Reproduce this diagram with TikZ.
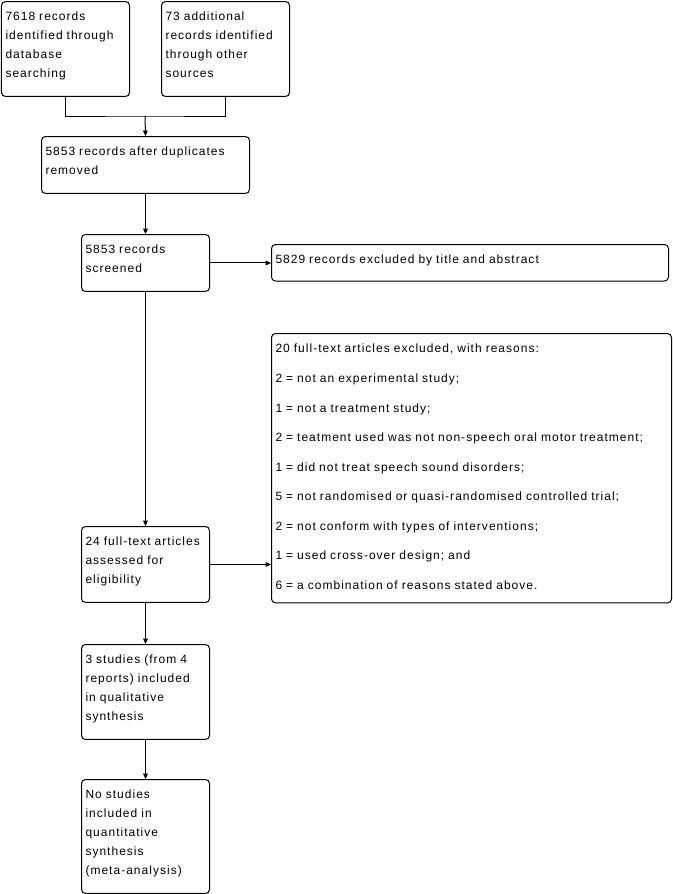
\documentclass[tikz,border=0pt]{standalone}
\usepackage{fontspec}
\setmainfont{Liberation Sans}[LetterSpace=8.5]
\usetikzlibrary{arrows.meta}

\begin{document}
\begin{tikzpicture}[x=0.75pt, y=-0.75pt, line width=0.75pt,
  font=\fontsize{9}{14.25}\selectfont,
  box/.style={draw, rounded corners=3pt, anchor=north west, align=left,
    inner xsep=3pt, inner ysep=4.6pt,
    execute at begin node=\strut,
    execute at end node={\rule[-#1]{0pt}{#1}}},
  box/.default=9.3pt,
  arr/.style={-{Triangle[length=4pt, width=3.5pt]}}]

  % Page frame, in pixels of the flow chart
  \useasboundingbox (0,0) rectangle (673,894);

  % Identification
  \node[box, text width=90pt] (dbsearch) at (1,1)
    {7618 records\\identified through\\database\\searching};
  \node[box, text width=90pt] (othersrc) at (161,1)
    {73 additional\\records identified\\through other\\sources};

  % Duplicates removed
  \node[box, text width=150pt] (dedup) at (41,136)
    {5853 records after duplicates\\removed};

  % Screening
  \node[box, text width=90pt] (screened) at (81,234)
    {5853 records\\screened};
  \node[box=8.2pt, text width=291.75pt] (exclabs) at (271,244)
    {5829 records excluded by title and abstract};

  % Eligibility
  \node[box, text width=90pt] (fulltext) at (81,526)
    {24 full-text articles\\assessed for\\eligibility};
  \node[box=5.7pt, text width=294pt] (excfull) at (271,333)
    {20 full-text articles excluded, with reasons:\\[7.9pt]
     2 = not an experimental study;\\[7.9pt]
     1 = not a treatment study;\\[7.9pt]
     2 = teatment used was not non-speech oral motor treatment;\\[7.9pt]
     1 = did not treat speech sound disorders;\\[7.9pt]
     5 = not randomised or quasi-randomised controlled trial;\\[7.9pt]
     2 = not conform with types of interventions;\\[7.9pt]
     1 = used cross-over design; and\\[7.9pt]
     6 = a combination of reasons stated above.};

  % Included
  \node[box, text width=90pt] (qualit) at (81,644)
    {3 studies (from 4\\reports) included\\in qualitative\\synthesis};
  \node[box, text width=90pt] (quantit) at (81,779)
    {No studies\\included in\\quantitative\\synthesis\\(meta-analysis)};

  % Connectors
  \coordinate (merge) at (145,116);
  \draw (dbsearch.south) |- (merge) -| (othersrc.south);
  \draw[arr] (merge) -- (dedup.north);
  \draw[arr] (dedup.south) -- (screened.north);
  \draw[arr] (screened.east) -- (screened.east -| exclabs.west);
  \draw[arr] (screened.south) -- (fulltext.north);
  \draw[arr] (fulltext.east) -- (fulltext.east -| excfull.west);
  \draw[arr] (fulltext.south) -- (qualit.north);
  \draw[arr] (qualit.south) -- (quantit.north);

\end{tikzpicture}
\end{document}
